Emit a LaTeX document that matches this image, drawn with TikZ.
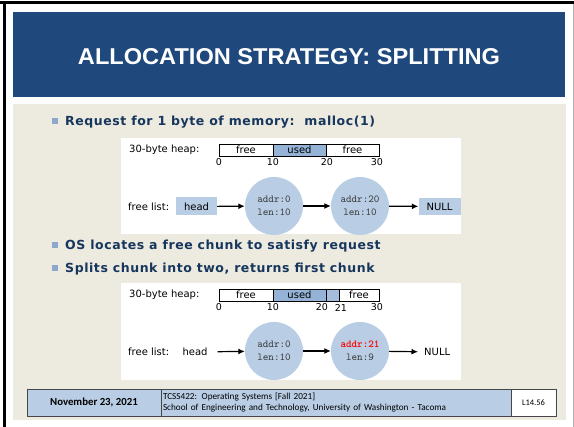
\documentclass[tikz,border=0pt]{standalone}
\usepackage{graphicx}
\usepackage{fontspec}
\setmainfont{Liberation Sans}
\newfontfamily\bulletfont[LetterSpace=4.5]{DejaVu Sans}
\newfontfamily\figfont{DejaVu Sans}
\newfontfamily\footfont{Carlito}
\usetikzlibrary{arrows.meta}

\definecolor{titleblue}{RGB}{31,73,125}
\definecolor{navytext}{RGB}{23,54,93}
\definecolor{pagebeige}{RGB}{237,235,224}
\definecolor{lightblue}{RGB}{185,205,229}
\definecolor{usedblue}{RGB}{149,179,215}
\definecolor{bulletblue}{RGB}{141,168,204}
\definecolor{monogray}{RGB}{55,55,55}
\definecolor{framegray}{RGB}{70,70,70}
\definecolor{addrred}{RGB}{255,0,0}

\tikzset{
  bulletsq/.style={fill=bulletblue, minimum size=6pt, inner sep=0pt},
  bullettext/.style={anchor=west, inner sep=0pt, text=navytext,
    font=\bulletfont\bfseries\fontsize{12.5}{14}\selectfont},
  lbl/.style={inner sep=0pt, font=\figfont\fontsize{10}{12}\selectfont, text=black},
  tick/.style={inner sep=0pt, font=\figfont\fontsize{9.5}{11}\selectfont},
  heapcell/.style={draw=black, line width=0.6pt, minimum height=12pt, inner sep=0pt,
    font=\figfont\fontsize{10}{11}\selectfont},
  listbox/.style={fill=lightblue, minimum height=18pt, inner sep=0pt,
    font=\figfont\fontsize{10}{12}\selectfont},
  chunk/.style={circle, fill=lightblue, minimum size=58pt, inner sep=0pt, align=center,
    font=\ttfamily\fontsize{10.6}{12.5}\selectfont, text=monogray},
  link/.style={-{Latex[length=6.5pt,width=6pt]}, line width=1.2pt, black},
  footcell/.style={draw=framegray, line width=0.8pt, minimum height=27pt, inner sep=0pt},
}

\begin{document}
\begin{tikzpicture}[x=1pt,y=-1pt]
\useasboundingbox (0,0) rectangle (574,427);
\fill[white] (0,0) rectangle (574,427);

% slide frame
\draw[black, line width=2.5pt] (0,2.5) -- (574,2.5);
\draw[black, line width=2.5pt] (4.5,2.5) -- (4.5,427);
\draw[gray!60, line width=0.6pt] (573,4) -- (573,427);

% title bar
\fill[titleblue] (13,12) rectangle (565,97);
\node[text=white, inner sep=0pt] (title) at (289,57)
  {\resizebox{422pt}{16pt}{\bfseries ALLOCATION STRATEGY: SPLITTING}};

% content area
\fill[pagebeige] (13,104) rectangle (566,420);

% bullets
\node[bulletsq] (b1) at (55,121) {};
\node[bullettext] (t1) at (65,122) {Request for 1 byte of memory:\ \ malloc(1)};
\node[bulletsq] (b2) at (55,245) {};
\node[bullettext] (t2) at (65,246) {OS locates a free chunk to satisfy request};
\node[bulletsq] (b3) at (55,268) {};
\node[bullettext] (t3) at (65,269) {Splits chunk into two, returns first chunk};

% ---------- before the split ----------
\fill[white] (121,138) rectangle (461,234);
\node[lbl, anchor=west] (hl1) at (129,150) {30-byte heap:};
\node[heapcell, minimum width=54pt] (c1a) at (246,150) {free};
\node[heapcell, minimum width=53pt, fill=usedblue] (c1b) at (299.5,150) {used};
\node[heapcell, minimum width=53pt] (c1c) at (352.5,150) {free};
\node[tick] (n1a) at (219,162.5) {0};
\node[tick] (n1b) at (273,162.5) {10};
\node[tick] (n1c) at (327,162.5) {20};
\node[tick] (n1d) at (377,162.5) {30};

\node[lbl, anchor=west] (fl1) at (128,207) {free list:};
\node[listbox, minimum width=41pt] (head1) at (196.5,206.5) {head};
\node[chunk] (k1a) at (274,206) {addr:0\\len:10};
\node[chunk] (k1b) at (360,206) {addr:20\\len:10};
\node[listbox, minimum width=42pt, minimum height=17pt] (null1) at (439.5,206.5) {NULL};
\draw[link] (head1) -- (k1a);
\draw[link] (k1a) -- (k1b);
\draw[link] (k1b) -- (null1);

% ---------- after the split ----------
\fill[white] (121,283) rectangle (461,380);
\node[lbl, anchor=west] (hl2) at (129,295) {30-byte heap:};
\node[heapcell, minimum width=54pt] (c2a) at (246,295) {free};
\node[heapcell, minimum width=53pt, fill=usedblue] (c2b) at (299.5,295) {used};
\node[heapcell, minimum width=13pt, fill=usedblue!85!white] (c2c) at (332.5,295) {};
\node[heapcell, minimum width=40pt] (c2d) at (359,295) {free};
\node[tick] (n2a) at (219,307.5) {0};
\node[tick] (n2b) at (273,307.5) {10};
\node[tick] (n2c) at (322,307.5) {20};
\node[tick] (n2d) at (341,307.5) {21};
\node[tick] (n2e) at (377,307.5) {30};

\node[lbl, anchor=west] (fl2) at (128,352) {free list:};
\node[lbl, inner xsep=10pt] (head2) at (195,352) {head};
\node[chunk] (k2a) at (274,351) {addr:0\\len:10};
\node[chunk] (k2b) at (360,351) {\textcolor{addrred}{\bfseries addr:21}\\len:9};
\node[lbl, anchor=west, inner xsep=6pt] (null2) at (418,352) {NULL};
\draw[link] (head2) -- (k2a);
\draw[link] (k2a) -- (k2b);
\draw[link] (k2b) -- (null2);

% footer
\node[footcell, fill=lightblue, minimum width=134pt, font=\footfont\bfseries\fontsize{10.8}{12}\selectfont]
  (fdate) at (94,402.5) {November 23, 2021};
\node[footcell, fill=lightblue, minimum width=350pt, text width=346pt, align=left,
  font=\footfont\fontsize{9.2}{11}\selectfont]
  (fcourse) at (336,402.5) {TCSS422: Operating Systems [Fall 2021]\\School of Engineering and Technology, University of Washington - Tacoma};
\node[footcell, fill=white, minimum width=45pt, font=\footfont\fontsize{8.5}{9}\selectfont]
  (fslide) at (533.5,402.5) {L14.56};
\end{tikzpicture}
\end{document}
